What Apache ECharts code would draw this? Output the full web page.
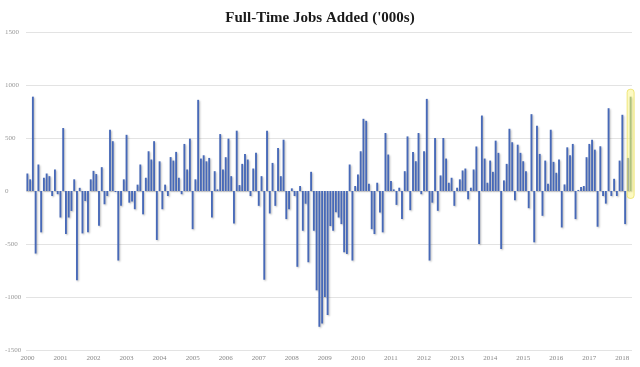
<!DOCTYPE html>
<html><head><meta charset="utf-8">
<script src="https://cdn.jsdelivr.net/npm/echarts@6/dist/echarts.min.js"></script>
<style>html,body{margin:0;padding:0;background:#fff}#c{width:640px;height:367px}</style>
</head><body><div id="c"></div>
<script>
const title = "Full-Time Jobs Added ('000s)";
const startYear = 2000;
const yTicks = { min: -1500, max: 1500, step: 500 };
// monthly change in full-time jobs, Jan 2000 onward ('000s)
const y2000 = [165, 110, 890, -590, 250, -390, 125, 165, 140, -47, 203, -30];
const y2001 = [-250, 594, -406, -250, -188, 110, -843, 30, -400, -94, -390, 110];
const y2002 = [190, 160, -328, 225, -125, -47, 578, 470, -10, -656, -140, 110];
const y2003 = [530, -110, -100, -172, 60, 250, -220, 125, 375, 297, 470, -462];
const y2004 = [280, -172, 60, -47, 320, 287, 369, 125, -30, 444, 203, 494];
const y2005 = [-360, 110, 860, 306, 337, 280, 312, -250, 187, 15, 537, 203];
const y2006 = [319, 494, 140, -306, 569, 56, 256, 350, 297, -47, 212, 360];
const y2007 = [-140, 140, -837, 569, -212, 265, -140, 406, 140, 484, -265, -172];
const y2008 = [25, -47, -715, 47, -375, -120, -672, 181, -375, -937, -1281, -1250];
const y2009 = [-1000, -1170, -330, -375, -200, -250, -312, -578, -594, 250, -656, 47];
const y2010 = [156, 375, 681, 662, 69, -360, -406, 78, -203, -390, 547, 344];
const y2011 = [94, 15, -131, 31, -265, 187, 515, -181, 369, 281, 547, -30];
const y2012 = [375, 869, -656, -110, 500, -187, 147, 500, 306, 78, 125, -140];
const y2013 = [31, 110, 194, 212, -78, 31, 203, 420, -500, 712, 306, 78];
const y2014 = [287, 181, 475, 360, -547, 100, 256, 587, 460, -87, 437, 360];
const y2015 = [281, 187, -162, 725, -484, 615, 350, -234, 287, 69, 578, 275];
const y2016 = [172, 297, -344, 62, 412, 337, 444, -265, 10, 37, 47, 319];
const y2017 = [444, 484, 390, -337, 422, -47, -119, 781, -47, 115, -47, 287];
const y2018 = [719, -312, 312, 890];

const values = [].concat(y2000, y2001, y2002, y2003, y2004, y2005, y2006, y2007, y2008,
  y2009, y2010, y2011, y2012, y2013, y2014, y2015, y2016, y2017, y2018);
const categories = values.map((v, i) => (startYear + Math.floor(i / 12)) + '-' + String(i % 12 + 1).padStart(2, '0'));

const chart = echarts.init(document.getElementById('c'), null, { renderer: 'canvas' });
const lastIdx = values.length - 1;
chart.setOption({
  animation: false,
  backgroundColor: '#ffffff',
  title: {
    text: title, left: 'center', top: 6,
    textStyle: { fontFamily: 'Liberation Serif', fontWeight: 'bold', fontSize: 15, color: '#1a1a1a' }
  },
  grid: { left: 26, right: 8, top: 32, bottom: 17 },
  xAxis: {
    type: 'category', data: categories,
    axisLine: { show: false, onZero: false }, axisTick: { show: false },
    axisLabel: {
      interval: (idx) => idx % 12 === 0,
      formatter: (v) => v.slice(0, 4),
      fontFamily: 'Liberation Serif', fontSize: 7, color: '#888', margin: 5
    }
  },
  yAxis: {
    type: 'value', min: yTicks.min, max: yTicks.max, interval: yTicks.step,
    axisLine: { show: false }, axisTick: { show: false },
    splitLine: { lineStyle: { color: '#e3e3e3', width: 1 } },
    axisLabel: { fontFamily: 'Liberation Serif', fontSize: 7, color: '#999', align: 'left', margin: 21,
      formatter: (v) => String(v) }
  },
  series: [{
    type: 'bar', data: values.map((v, i) => i === lastIdx ? { value: v, itemStyle: { color: '#6f9a86' } } : v),
    barWidth: '68%',
    itemStyle: { color: '#4769b8', shadowColor: 'rgba(0,0,0,0.28)', shadowBlur: 2, shadowOffsetX: 1, shadowOffsetY: 1 }
  }]
});
const pTop = chart.convertToPixel({ xAxisIndex: 0, yAxisIndex: 0 }, [lastIdx, 960]);
const pBot = chart.convertToPixel({ xAxisIndex: 0, yAxisIndex: 0 }, [lastIdx, -70]);
chart.setOption({
  graphic: [{
    type: 'rect', z: 100,
    shape: { x: pTop[0] - 3.5, y: pTop[1], width: 7, height: pBot[1] - pTop[1], r: 3 },
    style: { fill: 'rgba(250,245,120,0.45)', stroke: 'rgba(235,225,100,0.8)', lineWidth: 1 }
  }]
});
</script></body></html>
